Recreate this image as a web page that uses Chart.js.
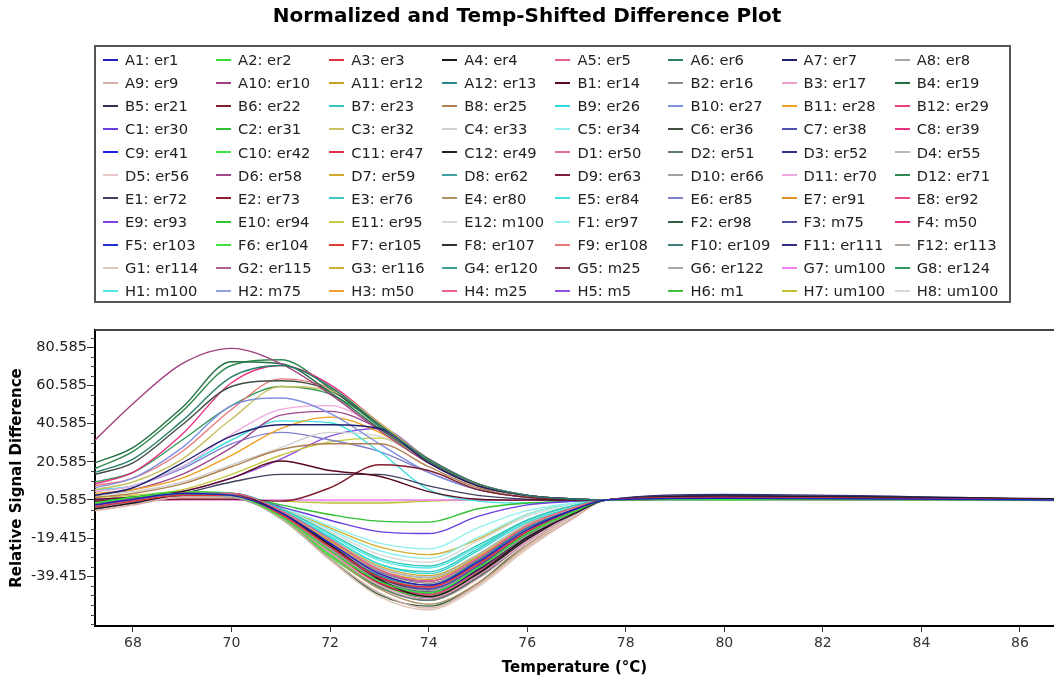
<!DOCTYPE html>
<html>
<head>
<meta charset="utf-8">
<title>Normalized and Temp-Shifted Difference Plot</title>
<script src="https://cdn.jsdelivr.net/npm/chart.js@4.4.1/dist/chart.umd.min.js"></script>
<style>
  html, body { margin: 0; padding: 0; background: #fff; }
  .wrap { position: relative; width: 1054px; height: 684px; overflow: hidden; }
  #myChart { position: absolute; left: 0; top: 0; }
  .legend_box {
    position: absolute; left: 94px; top: 45px; width: 917px; height: 258px;
    box-sizing: border-box; border: 2px solid #555; padding: 1px 0 0 7px;
    display: grid; grid-template-columns: repeat(8, 113.1px); grid-auto-rows: 23.15px;
    font: 14.7px "DejaVu Sans", sans-serif; color: #222;
  }
  .item { display: flex; align-items: center; white-space: nowrap; }
  .line { width: 15px; height: 2px; margin-right: 7px; }
</style>
</head>
<body>
<div class="wrap">
  <canvas id="myChart" width="1054" height="684"></canvas>
  <div class="legend_box"></div>
</div>
<script>
const TITLE = "Normalized and Temp-Shifted Difference Plot";
const X_TITLE = "Temperature (°C)";
const Y_TITLE = "Relative Signal Difference";

// temperatures where each curve was read
const TEMPS = [67.23, 68, 69, 70, 71, 72, 73, 74, 75, 76, 77, 77.6, 80, 86.7];

const X_TICKS = [68, 70, 72, 74, 76, 78, 80, 82, 84, 86];
const Y_TICKS = [-39.415, -19.415, 0.585, 20.585, 40.585, 60.585, 80.585];
const Y_MINOR = [
  -64.415, -59.415, -54.415, -49.415, -44.415, -34.415, -29.415, -24.415,
  -14.415, -9.415, -4.415, 5.585, 10.585, 15.585, 25.585, 30.585, 35.585,
  45.585, 50.585, 55.585, 65.585, 70.585, 75.585, 85.585,
];

const WELLS = [
  "A1: er1", "A2: er2", "A3: er3", "A4: er4", "A5: er5", "A6: er6", "A7: er7", "A8: er8",
  "A9: er9", "A10: er10", "A11: er12", "A12: er13", "B1: er14", "B2: er16", "B3: er17", "B4: er19",
  "B5: er21", "B6: er22", "B7: er23", "B8: er25", "B9: er26", "B10: er27", "B11: er28", "B12: er29",
  "C1: er30", "C2: er31", "C3: er32", "C4: er33", "C5: er34", "C6: er36", "C7: er38", "C8: er39",
  "C9: er41", "C10: er42", "C11: er47", "C12: er49", "D1: er50", "D2: er51", "D3: er52", "D4: er55",
  "D5: er56", "D6: er58", "D7: er59", "D8: er62", "D9: er63", "D10: er66", "D11: er70", "D12: er71",
  "E1: er72", "E2: er73", "E3: er76", "E4: er80", "E5: er84", "E6: er85", "E7: er91", "E8: er92",
  "E9: er93", "E10: er94", "E11: er95", "E12: m100", "F1: er97", "F2: er98", "F3: m75", "F4: m50",
  "F5: er103", "F6: er104", "F7: er105", "F8: er107", "F9: er108", "F10: er109", "F11: er111", "F12: er113",
  "G1: er114", "G2: er115", "G3: er116", "G4: er120", "G5: m25", "G6: er122", "G7: um100", "G8: er124",
  "H1: m100", "H2: m75", "H3: m50", "H4: m25", "H5: m5", "H6: m1", "H7: um100", "H8: um100",
];

const COLORS = [
  "#1f1fbf", "#33dd33", "#e0303a", "#1a1a1a", "#e8608a", "#2a7f6a", "#1f1f6f", "#a8a8a8",
  "#d8b0a8", "#a0407f", "#c8a020", "#2a8a8a", "#5a0a20", "#8a8a8a", "#f0a0d0", "#1f6f3f",
  "#2f2f4f", "#7f1f2f", "#30c8b8", "#b08050", "#30d8d8", "#8090e0", "#f0a020", "#e84080",
  "#6a40e0", "#30c030", "#c8c060", "#d0d0d0", "#90f0f0", "#3f4f3f", "#5050b0", "#e83080",
  "#1f1fe0", "#40e040", "#e03050", "#202020", "#e07090", "#607870", "#303090", "#b8b8b8",
  "#e8c8c8", "#a04890", "#d0a830", "#40a0a0", "#802040", "#a0a0a0", "#f0a8e0", "#308850",
  "#404060", "#902030", "#40c8c0", "#b09060", "#40e0e0", "#8080d0", "#e09020", "#e84888",
  "#8040e0", "#30c830", "#c8c840", "#d8d8d8", "#90f0f0", "#2f5f3f", "#5050a0", "#e83080",
  "#2030d0", "#40e040", "#e04030", "#303030", "#e87878", "#408080", "#303080", "#b0a8a0",
  "#e0c8b8", "#b06090", "#d0b030", "#40a090", "#904050", "#a8a8a8", "#f080f0", "#309858",
  "#50e8e8", "#90a0e0", "#f0a030", "#f06090", "#9050e0", "#40c040", "#c0c030", "#d8d8d8",
];

// one row per well, values at TEMPS
const CURVES = [
  [-2, 1, 4, 3, -6, -22, -38, -44, -32, -15, -4, 0.6, 1.5, 0.6], // A1
  [-1, 2, 4, 3, -8, -26, -42, -48, -35, -17, -5, 0.6, 1, 0.4],
  [-3, 0, 3, 3, -7, -24, -40, -45, -33, -16, -4, 0.6, 2, 0.8],
  [-4, -1, 3, 3, -6, -23, -41, -50, -38, -19, -6, 0.6, 2.5, 1.2],
  [-2, 1, 4, 4, -5, -20, -36, -42, -30, -13, -3, 0.6, 1, 0.5],
  [15, 22, 42, 65, 71, 60, 40, 22, 9, 3, 1, 0.6, 1.5, 0.8],
  [3, 7, 20, 34, 40, 40, 38, 20, 8, 3, 1, 0.6, 2, 1],
  [-3, 0, 3, 2, -7, -25, -41, -47, -35, -18, -5, 0.6, 1.5, 0.3],
  [-5, -2, 2, 2, -9, -30, -48, -56, -44, -24, -8, 0.6, 1, 0.5], // A9
  [32, 51, 72, 80, 72, 56, 37, 20, 8, 3, 1, 0.6, 2, 1],
  [-2, 1, 4, 3, -6, -21, -36, -41, -29, -13, -3, 0.6, 1.5, 0.8],
  [-1, 1, 3, 3, -7, -24, -39, -44, -31, -14, -4, 0.6, 2, 1],
  [1, 2, 5, 12, 21, 16, 13, 5, 1, 0.5, 0.6, 0.6, 1.5, 1],
  [-3, 0, 3, 3, -6, -22, -37, -43, -31, -15, -4, 0.6, 1, 0.4],
  [-4, -1, 2, 2, -8, -27, -44, -51, -39, -21, -6, 0.6, 1.5, 0.7],
  [20, 28, 49, 73, 72, 57, 38, 21, 8, 3, 1, 0.6, 2, 1],
  [-2, 1, 4, 4, -6, -23, -40, -47, -36, -18, -5, 0.6, 3, 1], // B5
  [0, 0.5, 1, 1, 0, 7, 19, 16, 6, 2, 0.8, 0.6, 2, 1],
  [-1, 2, 4, 4, -4, -17, -30, -34, -23, -10, -2, 0.6, 1.5, 0.6],
  [2, 4, 9, 18, 27, 30, 30, 18, 7, 2, 1, 0.6, 1.5, 0.8],
  [-2, 1, 3, 3, -5, -19, -33, -38, -26, -11, -3, 0.6, 1, 0.8],
  [7, 12, 28, 50, 54, 46, 30, 15, 6, 2, 1, 0.6, 1.5, 1],
  [4, 6, 12, 24, 38, 44, 36, 20, 8, 3, 1, 0.6, 1.5, 0.5],
  [-3, 0, 3, 3, -7, -25, -42, -49, -37, -19, -5, 0.6, 1.5, 0.5],
  [-2, 0, 3, 3, -3, -10, -16, -17, -8, -2, 0, 0.6, 1.5, 0.8], // C1
  [-1, 1, 3, 3, -2, -7, -10.5, -11, -4, -1, 0, 0.6, 1, 0.5],
  [6, 10, 22, 43, 60, 58, 41, 22, 9, 3, 1, 0.6, 1.5, 0.6],
  [3, 5, 10, 19, 28, 36, 34, 20, 8, 3, 1, 0.6, 1, 0.5],
  [-1, 1, 3, 4, -3, -13, -22, -25, -14, -5, -1, 0.6, 1, 1],
  [14, 20, 40, 60, 63, 58, 40, 22, 9, 3, 1, 0.6, 2, 0.7],
  [-3, 0, 3, 3, -6, -24, -40, -46, -35, -17, -5, 0.6, 2, 0.4],
  [9, 15, 35, 62, 71, 61, 41, 22, 9, 3, 1, 0.6, 2, 1],
  [-2, 1, 4, 3, -7, -25, -42, -48, -36, -18, -5, 0.6, 1.5, 0.6], // C9
  [-1, 2, 5, 4, -9, -28, -44, -50, -37, -18, -5, 0.6, 1, 0.9],
  [-2, 1, 4, 3, -8, -27, -43, -49, -36, -17, -5, 0.6, 2, 0.5],
  [-3, 0, 3, 3, -7, -25, -43, -51, -39, -20, -6, 0.6, 2.5, 1],
  [-2, 1, 3, 3, -6, -22, -38, -44, -32, -15, -4, 0.6, 1, 0.4],
  [-4, -1, 3, 2, -8, -27, -45, -52, -40, -21, -6, 0.6, 2, 0.8],
  [-2, 1, 3, 3, -7, -24, -41, -47, -35, -17, -5, 0.6, 3.5, 1],
  [-3, 0, 3, 3, -5, -20, -35, -40, -28, -12, -3, 0.6, 1, 0.5],
  [-4, -1, 2, 2, -7, -26, -44, -52, -41, -22, -7, 0.6, 1, 0.3], // D5
  [3, 6, 14, 28, 45, 47, 38, 22, 9, 3, 1, 0.6, 2, 1],
  [-2, 1, 3, 3, -5, -20, -34, -39, -28, -12, -3, 0.6, 1.5, 0.6],
  [-3, 0, 3, 3, -7, -25, -42, -49, -37, -19, -5, 0.6, 2, 0.7],
  [-2, 1, 4, 3, -7, -24, -41, -47, -35, -17, -5, 0.6, 2.5, 0.9],
  [-3, 0, 3, 3, -6, -23, -39, -45, -33, -16, -4, 0.6, 1, 0.5],
  [5, 8, 18, 35, 48, 50, 38, 21, 8, 3, 1, 0.6, 1.5, 0.6],
  [17, 26, 47, 71, 74, 59, 39, 21, 8, 3, 1, 0.6, 1.5, 1],
  [0.5, 1, 4, 10, 14, 14, 14, 8, 3, 1, 0.6, 0.6, 2, 1], // E1
  [-3, 0, 3, 3, -7, -26, -43, -50, -38, -19, -5, 0.6, 2, 0.6],
  [-2, 1, 3, 3, -5, -19, -33, -37, -25, -10, -2, 0.6, 1, 0.7],
  [-4, -1, 2, 2, -8, -28, -46, -54, -43, -23, -7, 0.6, 1.5, 0.4],
  [6, 8, 18, 32, 42, 41, 26, 6, 0, -1, 0, 0.6, 1, 0.8],
  [5, 8, 17, 30, 36, 32, 26, 15, 6, 2, 1, 0.6, 1, 0.6],
  [-3, 0, 3, 3, -7, -25, -42, -48, -36, -18, -5, 0.6, 1, 0.5],
  [-2, 1, 3, 3, -6, -23, -39, -45, -33, -16, -4, 0.6, 1.5, 0.5],
  [-2, 1, 4, 3, -6, -22, -37, -42, -30, -14, -4, 0.6, 2, 0.8], // E9
  [-1, 2, 4, 3, -8, -27, -44, -50, -37, -18, -5, 0.6, 1, 0.4],
  [2, 3, 6, 14, 24, 31, 33, 20, 8, 3, 1, 0.6, 1.5, 0.6],
  [-2, 0, 3, 3, -4, -16, -28, -32, -21, -8, -2, 0.6, 1, 0.5],
  [-1, 1, 3, 3, -4, -15, -26, -30, -19, -7, -1, 0.6, 1, 0.9],
  [-4, -1, 2, 2, -9, -30, -49, -55, -43, -22, -7, 0.6, 2, 0.7],
  [-2, 1, 3, 3, -6, -23, -40, -46, -34, -16, -4, 0.6, 1.5, 0.5],
  [-3, 0, 3, 3, -7, -25, -42, -48, -36, -18, -5, 0.6, 2, 0.6],
  [-2, 1, 3, 3, -7, -24, -41, -47, -36, -18, -5, 0.6, 1, 1.2], // F5
  [-1, 2, 4, 4, -9, -29, -45, -51, -38, -19, -5, 0.6, 0.5, 0.4],
  [-2, 1, 3, 3, -7, -26, -43, -49, -37, -18, -5, 0.6, 1.5, 0.6],
  [-3, 0, 3, 3, -7, -26, -44, -52, -40, -20, -6, 0.6, 2, 0.8],
  [8, 12, 26, 48, 64, 59, 41, 22, 9, 3, 1, 0.6, 1.5, 0.8],
  [-3, 0, 3, 3, -7, -25, -43, -50, -38, -19, -5, 0.6, 1.5, 0.5],
  [-2, 1, 3, 3, -6, -23, -40, -46, -34, -16, -4, 0.6, 2.5, 0.7],
  [-4, -1, 2, 2, -8, -27, -45, -52, -40, -21, -6, 0.6, 1, 0.5],
  [-5, -2, 2, 2, -9, -31, -50, -57, -45, -25, -8, 0.6, 1, 0.3], // G1
  [-3, 0, 3, 3, -6, -23, -39, -45, -33, -16, -4, 0.6, 1.5, 0.6],
  [-2, 0, 3, 3, -4, -14, -24, -28, -20, -7, -1, 0.6, 1.5, 0.8],
  [-3, 0, 3, 3, -7, -26, -44, -51, -39, -20, -6, 0.6, 2, 0.6],
  [-2, 1, 3, 3, -7, -25, -42, -48, -36, -18, -5, 0.6, 1, 0.5],
  [-3, 0, 3, 3, -6, -24, -41, -47, -35, -17, -5, 0.6, 1.5, 0.5],
  [0.585, 0.585, 0.585, 0.585, 0.585, 0.585, 0.585, 0.585, 0.585, 0.585, 0.585, 0.585, 0.585, 0.585],
  [10, 15, 32, 50, 60, 56, 40, 21, 9, 3, 1, 0.6, 1, 0.5],
  [-2, 1, 3, 3, -5, -18, -31, -35, -24, -10, -2, 0.6, 1, 1], // H1
  [-2, 1, 3, 3, -5, -20, -35, -40, -28, -12, -3, 0.6, 1.5, 0.6],
  [-3, 0, 3, 3, -7, -26, -44, -51, -40, -21, -6, 0.6, 1, 0.5],
  [-2, 1, 3, 3, -6, -22, -37, -42, -30, -14, -4, 0.6, 1.5, 0.6],
  [1, 2, 5, 12, 22, 34, 38, 22, 9, 3, 1, 0.6, 2, 0.8],
  [-1, 2, 4, 4, -8, -27, -43, -48, -35, -17, -5, 0.6, 1, 0.4],
  [0, 0.5, 1, 1, 0, -1, -1, 0, 0.5, 0.5, 0.6, 0.6, 1, 0.6],
  [0.5, 0.6, 1, 1, 0.5, 0, 0, 0.5, 0.6, 0.6, 0.6, 0.6, 0.8, 0.6],
];

const FONT = "DejaVu Sans";
const $legend = document.querySelector(".legend_box");

// top frame line + small ticks on the y axis
const framePlugin = {
  id: "frame",
  afterDraw(chart) {
    const { ctx, chartArea, scales } = chart;
    ctx.save();
    ctx.strokeStyle = "#444";
    ctx.lineWidth = 2;
    ctx.beginPath();
    ctx.moveTo(chartArea.left, chartArea.top);
    ctx.lineTo(chartArea.right, chartArea.top);
    ctx.stroke();
    ctx.strokeStyle = "#444";
    ctx.lineWidth = 1;
    Y_MINOR.forEach((v) => {
      const py = Math.round(scales.y.getPixelForValue(v)) + 0.5;
      ctx.beginPath();
      ctx.moveTo(chartArea.left - 4, py);
      ctx.lineTo(chartArea.left, py);
      ctx.stroke();
    });
    ctx.restore();
  },
};

const ctx = document.getElementById("myChart").getContext("2d");

const myChart = new Chart(ctx, {
  type: "line",
  data: {
    datasets: WELLS.map((well, i) => ({
      label: well,
      data: TEMPS.map((t, j) => ({ x: t, y: CURVES[i][j] })),
      borderColor: COLORS[i],
      backgroundColor: COLORS[i],
      borderWidth: 1.4,
      pointRadius: 0,
      fill: false,
      cubicInterpolationMode: "monotone",
    })),
  },
  options: {
    responsive: false,
    animation: false,
    layout: { padding: 0 },
    plugins: {
      legend: { display: false },
      tooltip: { enabled: false },
      title: {
        display: true,
        text: TITLE,
        color: "#000",
        font: { family: FONT, size: 20, weight: "bold" },
        padding: { top: 5, bottom: 301 },
      },
    },
    scales: {
      x: {
        type: "linear",
        min: 67.23,
        max: 86.69,
        afterBuildTicks: (s) => {
          s.ticks = X_TICKS.map((v) => ({ value: v }));
        },
        afterFit: (s) => {
          s.height = 58;
        },
        grid: { drawOnChartArea: false, tickLength: 6, color: "#333" },
        border: { color: "#000", width: 2 },
        ticks: {
          color: "#333",
          font: { family: FONT, size: 14 },
          padding: 3,
          maxRotation: 0,
          callback: (v) => v,
        },
        title: {
          display: true,
          text: X_TITLE,
          color: "#000",
          font: { family: FONT, size: 15, weight: "bold" },
          padding: { top: 0, bottom: 7 },
        },
      },
      y: {
        min: -65.4,
        max: 89.6,
        afterBuildTicks: (s) => {
          s.ticks = Y_TICKS.map((v) => ({ value: v }));
        },
        afterFit: (s) => {
          s.width = 95;
        },
        grid: { drawOnChartArea: false, tickLength: 8, color: "#333" },
        border: { color: "#000", width: 2 },
        ticks: {
          color: "#222",
          font: { family: FONT, size: 14.5 },
          padding: 0,
          callback: (v) => v.toFixed(3),
        },
        title: {
          display: true,
          text: Y_TITLE,
          color: "#000",
          font: { family: FONT, size: 15, weight: "bold" },
          padding: { top: 8, bottom: 0 },
        },
      },
    },
  },
  plugins: [framePlugin],
});

// legend grid under the title
const legendRender = () => {
  $legend.innerHTML = WELLS.map((well, i) => {
    return `
      <div class="item">
        <span class="line" style="background-color: ${COLORS[i]};"></span>
        <span>${well}</span>
      </div>`;
  }).join("");
};

legendRender();
</script>
</body>
</html>
